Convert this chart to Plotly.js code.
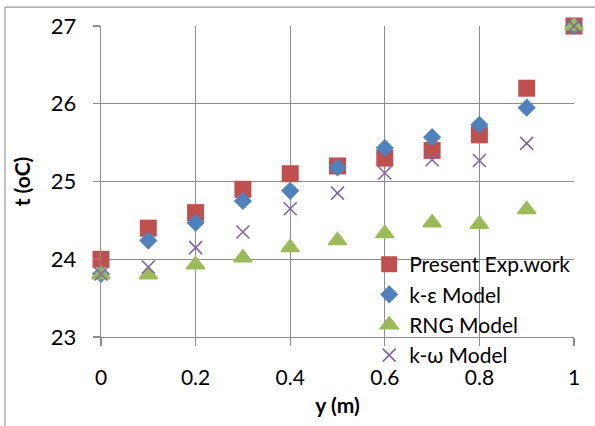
<!DOCTYPE html>
<html>
<head>
<meta charset="utf-8">
<script src="https://cdn.plot.ly/plotly-3.0.1.min.js"></script>
<style>html,body{margin:0;padding:0;background:#fff;}#chart{width:595px;height:426px;}</style>
</head>
<body>
<div id="chart"></div>
<script>
const yPositions = [0, 0.1, 0.2, 0.3, 0.4, 0.5, 0.6, 0.7, 0.8, 0.9, 1.0];
const presentExp = [24.0, 24.4, 24.6, 24.9, 25.1, 25.2, 25.3, 25.4, 25.6, 26.2, 27.0];
const kEpsilon   = [23.81, 24.24, 24.47, 24.75, 24.88, 25.18, 25.43, 25.57, 25.73, 25.95, 27.0];
const rngModel   = [23.8, 23.8, 23.93, 24.02, 24.15, 24.24, 24.33, 24.47, 24.45, 24.64, 27.0];
const kOmega     = [23.81, 23.9, 24.15, 24.35, 24.65, 24.85, 25.11, 25.28, 25.27, 25.49, 27.0];
const seriesNames = ['Present Exp.work', 'k-ε Model', 'RNG Model', 'k-ω Model'];
const xTickVals = [0, 0.2, 0.4, 0.6, 0.8, 1];
const xTickText = ['0', '0.2', '0.4', '0.6', '0.8', '1'];
const yTickVals = [23, 24, 25, 26, 27];
const yTickText = ['23', '24', '25', '26', '27'];

const FONT = 'Lato, "Open Sans", sans-serif';
const GRID = '#8c8c8c';

const traces = [
  {x: yPositions, y: presentExp, name: seriesNames[0],
   marker: {symbol: 'square', size: 17, color: '#C0504D'}},
  {x: yPositions, y: kEpsilon, name: seriesNames[1],
   marker: {symbol: 'diamond', size: 14, color: '#4F81BD'}},
  {x: yPositions, y: rngModel, name: seriesNames[2],
   marker: {symbol: 'triangle-up', size: 16, color: '#9BBB59', line: {width: 1.5, color: '#9BBB59'}}},
  {x: yPositions, y: kOmega, name: seriesNames[3],
   marker: {symbol: 'x-thin', size: 13, color: '#8064A2', line: {width: 1.6, color: '#8064A2'}}}
].map(t => Object.assign({type: 'scatter', mode: 'markers', cliponaxis: false}, t));

const layout = {
  width: 595, height: 426,
  margin: {l: 101, r: 21, t: 26, b: 89},
  paper_bgcolor: '#fff', plot_bgcolor: '#fff',
  font: {family: FONT, size: 22, color: '#000'},
  showlegend: true,
  legend: {
    x: 0.567, y: 0.299, xanchor: 'left', yanchor: 'top',
    bgcolor: 'rgba(0,0,0,0)', borderwidth: 0,
    font: {family: FONT, size: 21, color: '#000'},
    traceorder: 'normal'
  },
  xaxis: {
    range: [0, 1], tickmode: 'array', tickvals: xTickVals, ticktext: xTickText,
    showgrid: true, gridcolor: GRID, gridwidth: 1.3,
    showline: true, linecolor: GRID, linewidth: 1.3,
    ticks: 'outside', ticklen: 8, tickcolor: GRID, tickwidth: 1.3,
    ticklabelstandoff: 13, tickfont: {family: FONT, size: 21},
    zeroline: false, fixedrange: true,
    title: {text: '<b>y (m)</b>', font: {family: FONT, size: 21}, standoff: 10}
  },
  yaxis: {
    range: [23, 27], tickmode: 'array', tickvals: yTickVals, ticktext: yTickText,
    showgrid: true, gridcolor: GRID, gridwidth: 1.3,
    showline: true, linecolor: GRID, linewidth: 1.3,
    ticks: 'outside', ticklen: 7, tickcolor: GRID, tickwidth: 1.3,
    ticklabelstandoff: 12, zeroline: false, fixedrange: true,
    title: {text: '<b>t (oC)</b>', font: {family: FONT, size: 21}, standoff: 14}
  },
  shapes: [
    {type: 'line', xref: 'paper', yref: 'paper', x0: -0.203, x1: -0.203, y0: 1.061, y1: -0.4,
     line: {color: '#9a9a9a', width: 1.2}},
    {type: 'line', xref: 'paper', yref: 'paper', x0: -0.203, x1: 1.1, y0: 1.061, y1: 1.061,
     line: {color: '#9a9a9a', width: 1.2}}
  ]
};

Plotly.newPlot('chart', traces, layout, {staticPlot: true, displayModeBar: false});
</script>
</body>
</html>
